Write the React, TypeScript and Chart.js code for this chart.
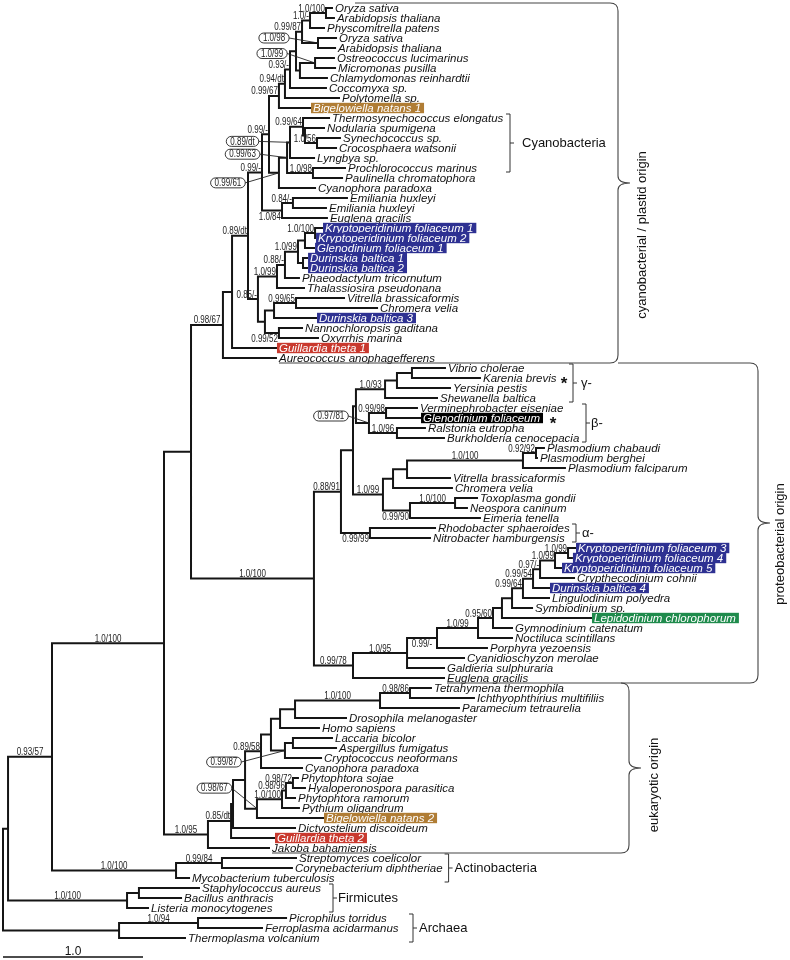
import React, { useEffect, useRef } from 'react';
import { Chart, registerables } from 'chart.js';

Chart.register(...registerables);

// ---------------- DATA ----------------
const leafNames = [
  'Oryza sativa', 'Arabidopsis thaliana', 'Physcomitrella patens', 'Oryza sativa', 'Arabidopsis thaliana',
  'Ostreococcus lucimarinus', 'Micromonas pusilla', 'Chlamydomonas reinhardtii', 'Coccomyxa sp.', 'Polytomella sp.',
  'Bigelowiella natans 1', 'Thermosynechococcus elongatus', 'Nodularia spumigena', 'Synechococcus sp.', 'Crocosphaera watsonii',
  'Lyngbya sp.', 'Prochlorococcus marinus', 'Paulinella chromatophora', 'Cyanophora paradoxa', 'Emiliania huxleyi',
  'Emiliania huxleyi', 'Euglena gracilis', 'Kryptoperidinium foliaceum 1', 'Kryptoperidinium foliaceum 2', 'Glenodinium foliaceum 1',
  'Durinskia baltica 1', 'Durinskia baltica 2', 'Phaeodactylum tricornutum', 'Thalassiosira pseudonana', 'Vitrella brassicaformis',
  'Chromera velia', 'Durinskia baltica 3', 'Nannochloropsis gaditana', 'Oxyrrhis marina', 'Guillardia theta 1',
  'Aureococcus anophagefferens',
  'Vibrio cholerae', 'Karenia brevis', 'Yersinia pestis', 'Shewanella baltica', 'Verminephrobacter eiseniae',
  'Glenodinium foliaceum', 'Ralstonia eutropha', 'Burkholderia cenocepacia', 'Plasmodium chabaudi', 'Plasmodium berghei',
  'Plasmodium falciparum', 'Vitrella brassicaformis', 'Chromera velia', 'Toxoplasma gondii', 'Neospora caninum',
  'Eimeria tenella', 'Rhodobacter sphaeroides', 'Nitrobacter hamburgensis', 'Kryptoperidinium foliaceum 3', 'Kryptoperidinium foliaceum 4',
  'Kryptoperidinium foliaceum 5', 'Crypthecodinium cohnii', 'Durinskia baltica 4', 'Lingulodinium polyedra', 'Symbiodinium sp.',
  'Lepidodinium chlorophorum', 'Gymnodinium catenatum', 'Noctiluca scintillans', 'Porphyra yezoensis', 'Cyanidioschyzon merolae',
  'Galdieria sulphuraria', 'Euglena gracilis',
  'Tetrahymena thermophila', 'Ichthyophthirius multifiliis', 'Paramecium tetraurelia', 'Drosophila melanogaster', 'Homo sapiens',
  'Laccaria bicolor', 'Aspergillus fumigatus', 'Cryptococcus neoformans', 'Cyanophora paradoxa', 'Phytophtora sojae',
  'Hyaloperonospora parasitica', 'Phytophtora ramorum', 'Pythium oligandrum', 'Bigelowiella natans 2', 'Dictyostelium discoideum',
  'Guillardia theta 2', 'Jakoba bahamiensis',
  'Streptomyces coelicolor', 'Corynebacterium diphtheriae', 'Mycobacterium tuberculosis',
  'Staphylococcus aureus', 'Bacillus anthracis', 'Listeria monocytogenes',
  'Picrophilus torridus', 'Ferroplasma acidarmanus', 'Thermoplasma volcanium',
];

const leafParents = [
  'n1', 'n1', 'n2', 'n4', 'n4', 'n7', 'n7', 'n6', 'n8', 'n9',
  'n10', 'cA', 'cB', 'c1', 'c1', 'c4', 'c6', 'c6', 'c7', 'em1',
  'em1', 'em2', 'd1', 'd1', 'd2', 'd3', 'd3', 'd5', 'd6', 'k1',
  'k1', 'k2', 'k4', 'k4', 'G', 'E',
  'g1', 'g1', 'g2', 'g3', 'b1', 'b1', 'b2', 'b2', 'p1', 'p1',
  'p2', 'p3', 'p4', 'tn', 'tn', 'p5', 'al', 'al', 'ka', 'ka',
  'kb', 'kc', 'kd', 'ke', 'kf', 'kg', 'kh', 'ki', 'kj', 'S1',
  'S1', 'S',
  'cil1', 'cil1', 'cil2', 'o1', 'o2', 'f1', 'f1', 'f2', 'V4', 'st1',
  'st1', 'st2', 'st3', 'W', 'V1a', 'V1', 'V',
  'act1', 'act1', 'Act', 'fir1', 'fir1', 'Fir', 'arc1', 'arc1', 'Arc',
];

// cumulative branch length (substitutions/site) at each tip
const leafDepths = [
  2.357, 2.371, 2.3, 2.386, 2.379, 2.371, 2.379, 2.321, 2.314, 2.407,
  2.2, 2.336, 2.3, 2.414, 2.386, 2.229, 2.45, 2.429, 2.236, 2.464,
  2.314, 2.321, 2.286, 2.236, 2.229, 2.179, 2.179, 2.121, 2.157, 2.443,
  2.679, 2.243, 2.143, 2.257, 1.957, 1.957,
  3.164, 3.414, 3.2, 3.107, 2.964, 2.986, 3.021, 3.157, 3.871, 3.821,
  4.021, 3.2, 3.214, 3.393, 3.321, 3.414, 3.093, 3.057, 4.093, 4.071,
  3.993, 4.086, 3.907, 3.907, 3.786, 4.207, 3.643, 3.643, 3.464, 3.3,
  3.157, 3.157,
  3.064, 3.371, 3.264, 2.457, 2.264, 2.357, 2.386, 2.279, 2.143, 2.114,
  2.164, 2.093, 2.121, 2.293, 2.093, 1.943, 1.907,
  2.1, 2.071, 1.336, 1.407, 1.279, 1.043, 2.029, 1.857, 1.307,
];

const highlightLeaves = [10, 22, 23, 24, 25, 26, 31, 34, 41, 54, 55, 56, 58, 61, 81, 83];
const highlightKinds = ['tan', 'navy', 'navy', 'navy', 'navy', 'navy', 'navy', 'red', 'black', 'navy', 'navy', 'navy', 'navy', 'green', 'tan', 'red'];
const starredLeaves = [37, 41];

const nodeIds = [
  'root', 'A', 'Arc', 'arc1', 'B', 'Fir', 'fir1', 'C', 'Act', 'act1',
  'D', 'V', 'E', 'Q', 'G', 'H', 'P2', 'P1', 'n10', 'n9',
  'n8', 'n5', 'n3', 'n2', 'n1', 'n4', 'n6', 'n7', 'c7', 'c5',
  'c4', 'cA', 'cB', 'c1', 'c6', 'em2', 'em1', 'J', 'd6', 'd5',
  'd4', 'd2', 'd1', 'd3', 'k3', 'k2', 'k1', 'k4', 'R', 'S',
  'R1', 'al', 'T', 'U', 'g3', 'g2', 'g1', 'b3', 'b1', 'b2',
  'p4', 'p3', 'p2', 'p1', 'p5', 'tn', 'S1', 'kj', 'ki', 'kh',
  'kg', 'kf', 'ke', 'kd', 'kc', 'kb', 'ka', 'V1', 'V1a', 'V2',
  'V4', 'o3', 'o2', 'o1', 'cil2', 'cil1', 'f2', 'f1', 'W', 'st3',
  'st2', 'st1',
];
const nodeParents = [
  '', 'root', 'root', 'Arc', 'A', 'A', 'Fir', 'B', 'B', 'Act',
  'C', 'C', 'D', 'D', 'E', 'G', 'H', 'P2', 'P1', 'n10',
  'n9', 'n8', 'n5', 'n3', 'n2', 'n3', 'n5', 'n6', 'P1', 'c7',
  'c5', 'c4', 'cA', 'cB', 'c5', 'P2', 'em2', 'H', 'J', 'd6',
  'd5', 'd4', 'd2', 'd4', 'J', 'k3', 'k2', 'k3', 'Q', 'Q',
  'R', 'R', 'R1', 'R1', 'T', 'g3', 'g2', 'T', 'b3', 'b3',
  'U', 'p4', 'p3', 'p2', 'U', 'p5', 'S', 'S1', 'kj', 'ki',
  'kh', 'kg', 'kf', 'ke', 'kd', 'kc', 'kb', 'V', 'V1', 'V1a',
  'V2', 'V4', 'o3', 'o2', 'o1', 'cil2', 'o3', 'f2', 'V2', 'W',
  'st3', 'st2',
];
const nodeDepths = [
  0, 0.036, 0.829, 1.393, 0.35, 0.886, 0.971, 1.15, 1.236, 1.564,
  1.343, 1.464, 1.571, 2.221, 1.636, 1.75, 1.85, 1.9, 1.971, 2.014,
  2.05, 2.093, 2.136, 2.193, 2.307, 2.25, 2.121, 2.229, 1.971, 2.029,
  2.05, 2.143, 2.157, 2.243, 2.214, 1.993, 2.071, 1.821, 1.957, 2.014,
  2.107, 2.157, 2.229, 2.143, 1.871, 1.936, 2.093, 1.971, 2.414, 2.5,
  2.5, 2.621, 2.521, 2.714, 2.729, 2.814, 2.921, 2.614, 2.736, 2.814,
  2.786, 2.886, 3.714, 3.807, 2.907, 3.229, 2.886, 3.1, 3.393, 3.5,
  3.564, 3.636, 3.714, 3.786, 3.836, 3.943, 4.036, 1.629, 1.643, 1.729,
  1.843, 1.914, 1.979, 2.086, 2.693, 2.907, 2.014, 2.071, 1.814, 1.993,
  2.021, 2.071,
];
const nodeSupport = [
  '', '', '', '1.0/94', '0.93/57', '1.0/100', '', '1.0/100', '1.0/100', '0.99/84',
  '', '1.0/95', '0.98/67', '1.0/100', '', '0.89/dt', '0.99/-', '0.99/-', '0.99/67', '0.94/dt',
  '0.93/-', '', '0.99/87', '1.0/-', '1.0/100', '1.0/98', '', '1.0/99', '0.99/61', '0.99/63',
  '0.89/dt', '0.99/64', '', '1.0/56', '1.0/98', '1.0/84', '0.84/-', '0.85/-', '1.0/99', '0.88/-',
  '1.0/99', '', '1.0/100', '', '', '', '0.99/65', '0.99/52', '0.88/91', '0.99/78',
  '', '0.99/99', '', '1.0/99', '1.0/93', '', '', '0.97/81', '0.99/98', '1.0/96',
  '', '', '1.0/100', '0.92/92', '0.99/90', '1.0/100', '1.0/95', '0.99/-', '1.0/99', '0.95/60',
  '', '', '0.99/64', '0.99/54', '0.97/-', '1.0/99', '1.0/99', '0.85/dt', '', '',
  '0.89/58', '', '', '', '1.0/100', '0.98/86', '0.99/87', '', '0.98/67', '1.0/100',
  '0.98/96', '0.98/72',
];
// a = above branch, b = below branch, e = circled callout
const nodeLabelPos = [
  '', '', '', 'a', 'a', 'a', '', 'a', 'a', 'a',
  '', 'a', 'a', 'a', '', 'a', 'a', 'a', 'a', 'a',
  'a', '', 'a', 'a', 'a', 'e', '', 'e', 'e', 'e',
  'e', 'a', '', 'a', 'a', 'b', 'a', 'a', 'a', 'a',
  'a', '', 'a', '', '', '', 'a', 'b', 'a', 'a',
  '', 'b', '', 'a', 'a', '', '', 'e', 'a', 'a',
  '', '', 'a', 'a', 'b', 'a', 'a', 'b', 'a', 'a',
  '', '', 'a', 'a', 'a', 'a', 'a', 'a', '', '',
  'a', '', '', '', 'a', 'a', 'e', '', 'e', 'a',
  'a', 'a',
];

const cladeNames = ['Cyanobacteria', 'γ-', 'β-', 'α-', 'Actinobacteria', 'Firmicutes', 'Archaea'];
const cladeFirst = [11, 36, 40, 52, 85, 88, 91];
const cladeLast = [16, 39, 43, 53, 87, 90, 93];

const originNames = ['cyanobacterial / plastid origin', 'proteobacterial origin', 'eukaryotic origin'];
const originFirst = [0, 36, 68];
const originLast = [35, 67, 84];

const scaleBarValue = 1.0;

// ---------------- LAYOUT (pixels, styling only) ----------------
const HL_COLORS: Record<string, string> = {
  tan: '#b07d35', navy: '#2e3192', red: '#c9392e', black: '#000000', green: '#1f8b4c',
};
const calloutOffsets: Record<string, [number, number]> = {
  n4: [-44, -5], n7: [-43, -9.5], c4: [-47.5, -1], c5: [-44.5, -3.5], c7: [-51, 10],
  b3: [-38, -7], f2: [-61, 11.5], W: [-42.5, -20.5],
};
const starX = [564, 553];
const cladeBracketX = [510, 573, 586, 576, 448, 333, 413];
const cladeTextGap = [12, 8, 5, 6, 6, 5, 6];
const braceX = [618, 758, 629];
const braceLabelX = [642, 780, 654];
const braceLabelDy = [52, 21, 17];

const LEAF_FONT = 'italic 11.5px "Liberation Sans", Arial, sans-serif';
const SUPPORT_FONT = '10px "Liberation Sans", Arial, sans-serif';
const GROUP_FONT = '13px "Liberation Sans", Arial, sans-serif';
const COND = 0.8;

// ---------------- TREE GEOMETRY ----------------
const nodeIndex: Record<string, number> = {};
nodeIds.forEach((id, i) => { nodeIndex[id] = i; });
type Kid = { leaf: boolean; i: number };
const kids: Kid[][] = nodeIds.map(() => []);
leafParents.forEach((p, i) => kids[nodeIndex[p]].push({ leaf: true, i }));
nodeParents.forEach((p, i) => { if (p) kids[nodeIndex[p]].push({ leaf: false, i }); });
const nodeY: number[] = nodeIds.map(() => NaN);
function kidY(k: Kid): number { return k.leaf ? k.i : nodeYOf(k.i); }
function kidX(k: Kid): number { return k.leaf ? leafDepths[k.i] : nodeDepths[k.i]; }
function nodeYOf(i: number): number {
  if (!isNaN(nodeY[i])) return nodeY[i];
  const ys = kids[i].map(kidY);
  nodeY[i] = (Math.min(...ys) + Math.max(...ys)) / 2;
  return nodeY[i];
}
nodeIds.forEach((_, i) => nodeYOf(i));

const branchPoints: { x: number; y: number | null }[] = [];
nodeIds.forEach((_, i) => {
  const ks = kids[i].map((k) => ({ x: kidX(k), y: kidY(k) })).sort((a, b) => a.y - b.y);
  const nx = nodeDepths[i];
  const f = ks[0];
  const l = ks[ks.length - 1];
  branchPoints.push({ x: f.x, y: f.y }, { x: nx, y: f.y }, { x: nx, y: l.y }, { x: l.x, y: l.y }, { x: nx, y: null });
  for (let k = 1; k < ks.length - 1; k++) {
    branchPoints.push({ x: nx, y: ks[k].y }, { x: ks[k].x, y: ks[k].y }, { x: nx, y: null });
  }
});

function condText(ctx: CanvasRenderingContext2D, text: string, x: number, y: number, align: CanvasTextAlign, baseline: CanvasTextBaseline) {
  ctx.save();
  ctx.translate(x, y);
  ctx.scale(COND, 1);
  ctx.textAlign = align;
  ctx.textBaseline = baseline;
  ctx.fillText(text, 0, 0);
  ctx.restore();
}

const treeLabels = {
  id: 'treeLabels',
  afterDatasetsDraw(chart: any) {
    const ctx: CanvasRenderingContext2D = chart.ctx;
    const xs = chart.scales.x;
    const ys = chart.scales.y;
    const px = (v: number) => xs.getPixelForValue(v);
    const py = (v: number) => ys.getPixelForValue(v);
    ctx.save();

    // leaf labels
    ctx.font = LEAF_FONT;
    ctx.textAlign = 'left';
    ctx.textBaseline = 'middle';
    const labelEnd: number[] = [];
    leafNames.forEach((name, i) => {
      const x = px(leafDepths[i]);
      const y = py(i);
      const w = ctx.measureText(name).width;
      const h = highlightLeaves.indexOf(i);
      if (h >= 0) {
        ctx.fillStyle = HL_COLORS[highlightKinds[h]];
        ctx.fillRect(x, y - 5.2, w + 5, 10.4);
        ctx.fillStyle = '#ffffff';
        ctx.fillText(name, x + 2, y + 0.5);
        labelEnd[i] = x + w + 5;
      } else {
        ctx.fillStyle = '#111111';
        ctx.fillText(name, x + 2, y + 0.5);
        labelEnd[i] = x + 2 + w;
      }
    });

    // asterisks
    ctx.font = 'bold 17px "Liberation Sans", Arial, sans-serif';
    ctx.fillStyle = '#111111';
    ctx.textAlign = 'center';
    ctx.textBaseline = 'alphabetic';
    starredLeaves.forEach((li, k) => {
      ctx.fillText('*', Math.max(starX[k], labelEnd[li] + 6), py(li) + 11);
    });

    // support values
    ctx.font = SUPPORT_FONT;
    ctx.fillStyle = '#222222';
    ctx.strokeStyle = '#222222';
    nodeIds.forEach((id, i) => {
      const s = nodeSupport[i];
      if (!s) return;
      const nx = px(nodeDepths[i]);
      const ny = py(nodeY[i]);
      const parentX = px(nodeDepths[nodeIndex[nodeParents[i]]]);
      const w = ctx.measureText(s).width * COND;
      const pos = nodeLabelPos[i];
      if (pos === 'e') {
        const off = calloutOffsets[id] || [-40, 0];
        const cx = nx + off[0];
        const cy = ny + off[1];
        const ew = w + 8;
        const eh = 10;
        ctx.lineWidth = 0.9;
        ctx.beginPath();
        (ctx as any).roundRect(cx - ew / 2, cy - eh / 2, ew, eh, eh / 2);
        ctx.stroke();
        ctx.beginPath();
        ctx.moveTo(cx + ew / 2, cy);
        ctx.lineTo(nx, ny);
        ctx.stroke();
        condText(ctx, s, cx, cy + 0.5, 'center', 'middle');
        return;
      }
      const len = nx - parentX;
      const baseline: CanvasTextBaseline = pos === 'b' ? 'top' : 'alphabetic';
      const ty = pos === 'b' ? ny + 1.5 : ny - 1.5;
      if (w + 4 <= len) condText(ctx, s, (nx + parentX) / 2, ty, 'center', baseline);
      else condText(ctx, s, nx - 1, ty, 'right', baseline);
    });

    // clade brackets
    ctx.strokeStyle = '#333333';
    ctx.fillStyle = '#111111';
    ctx.lineWidth = 1;
    ctx.font = GROUP_FONT;
    cladeNames.forEach((name, k) => {
      const top = py(cladeFirst[k]) - 4;
      const bot = py(cladeLast[k]) + 4;
      let bx = cladeBracketX[k];
      for (let li = cladeFirst[k]; li <= cladeLast[k]; li++) {
        if (starredLeaves.indexOf(li) < 0) bx = Math.max(bx, labelEnd[li] + 6);
      }
      const mid = (top + bot) / 2;
      ctx.beginPath();
      ctx.moveTo(bx - 4, top);
      ctx.lineTo(bx, top);
      ctx.lineTo(bx, bot);
      ctx.lineTo(bx - 4, bot);
      ctx.moveTo(bx, mid);
      ctx.lineTo(bx + 4, mid);
      ctx.stroke();
      ctx.textAlign = 'left';
      ctx.textBaseline = 'middle';
      ctx.fillText(name, bx + cladeTextGap[k], mid + 0.5);
    });

    // origin braces
    ctx.strokeStyle = '#444444';
    ctx.lineWidth = 1.1;
    const r = 8;
    originNames.forEach((name, k) => {
      const x = braceX[k];
      const top = py(originFirst[k]) - 5;
      const bot = py(originLast[k]) + 5;
      const tip = (top + bot) / 2;
      const topStart = k === 0 ? px(leafDepths[originFirst[k]]) + 22 : braceX[k - 1];
      const botStart = px(leafDepths[originLast[k]]) + 2;
      ctx.beginPath();
      ctx.moveTo(Math.min(topStart, x - r), top);
      ctx.lineTo(x - r, top);
      ctx.quadraticCurveTo(x, top, x, top + r);
      ctx.lineTo(x, tip - 7);
      ctx.quadraticCurveTo(x, tip, x + 12, tip);
      ctx.quadraticCurveTo(x, tip, x, tip + 7);
      ctx.lineTo(x, bot - r);
      ctx.quadraticCurveTo(x, bot, x - r, bot);
      ctx.lineTo(botStart, bot);
      ctx.stroke();
      ctx.save();
      ctx.translate(braceLabelX[k], tip + braceLabelDy[k]);
      ctx.rotate(-Math.PI / 2);
      ctx.textAlign = 'center';
      ctx.textBaseline = 'middle';
      ctx.fillStyle = '#111111';
      ctx.font = GROUP_FONT;
      ctx.fillText(name, 0, 0);
      ctx.restore();
    });

    // scale bar
    const barY = chart.chartArea.bottom + 19;
    ctx.strokeStyle = '#111111';
    ctx.lineWidth = 1.6;
    ctx.beginPath();
    ctx.moveTo(px(0), barY);
    ctx.lineTo(px(scaleBarValue), barY);
    ctx.stroke();
    ctx.font = '12px "Liberation Sans", Arial, sans-serif';
    ctx.fillStyle = '#111111';
    ctx.textAlign = 'center';
    ctx.textBaseline = 'alphabetic';
    ctx.fillText(scaleBarValue.toFixed(1), (px(0) + px(scaleBarValue)) / 2, barY - 2);

    ctx.restore();
  },
};

export default function App() {
  const ref = useRef<HTMLCanvasElement>(null);
  useEffect(() => {
    document.body.style.margin = '0';
    const chart = new Chart(ref.current as HTMLCanvasElement, {
      type: 'scatter',
      data: {
        datasets: [
          {
            data: branchPoints as any,
            showLine: true,
            spanGaps: false,
            borderColor: '#151515',
            borderWidth: 2,
            pointRadius: 0,
            pointHoverRadius: 0,
            borderJoinStyle: 'miter',
            borderCapStyle: 'butt',
            tension: 0,
            clip: false as any,
          },
        ],
      },
      options: {
        animation: false,
        responsive: true,
        maintainAspectRatio: false,
        events: [],
        layout: { padding: { left: 3, right: 3, top: 8, bottom: 22 } },
        scales: {
          x: { type: 'linear', min: 0, max: 5.6, display: false },
          y: { type: 'linear', min: 0, max: leafNames.length - 1, reverse: true, display: false },
        },
        plugins: { legend: { display: false }, tooltip: { enabled: false } },
      },
      plugins: [treeLabels],
    });
    return () => chart.destroy();
  }, []);
  return (
    <div style={{ position: 'absolute', left: 0, top: 0, width: 790, height: 960, background: '#ffffff' }}>
      <canvas ref={ref} />
    </div>
  );
}
